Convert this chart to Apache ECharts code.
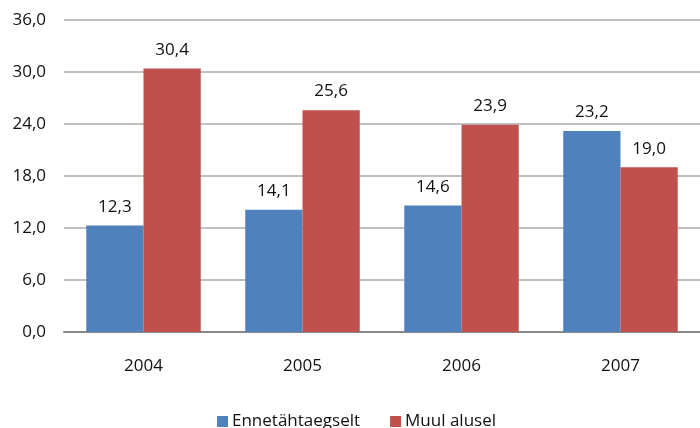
<!DOCTYPE html>
<html><head><meta charset="utf-8">
<script src="https://cdn.jsdelivr.net/npm/echarts@6/dist/echarts.min.js"></script>
<style>html,body{margin:0;padding:0;background:#fff}#c{width:700px;height:428px}</style>
</head><body><div id="c"></div>
<script>
var categories = ['2004', '2005', '2006', '2007'];
var seriesNames = ['Ennetähtaegselt', 'Muul alusel'];
var ennetahtaegselt = [12.3, 14.1, 14.6, 23.2];
var muulAlusel = [30.4, 25.6, 23.9, 19.0];
var yTicks = [0, 6, 12, 18, 24, 30, 36];

var fmt = function (v) { return v.toFixed(1).replace('.', ','); };
var font = 'Open Sans, Noto Sans, sans-serif';
var fs = 17;
var chart = echarts.init(document.getElementById('c'));
var lbl = { show: true, position: 'top', distance: 10, fontSize: fs, color: '#111', fontFamily: font,
  formatter: function (p) { return fmt(p.value); } };
chart.setOption({
  animation: false,
  grid: { left: 64, right: -5, top: 20, bottom: 96 },
  legend: {
    top: 408, left: 212, itemWidth: 11, itemHeight: 11, itemGap: 30, icon: 'rect',
    textStyle: { fontSize: fs, color: '#111', fontFamily: font, padding: [0, 0, 0, -1] },
    data: seriesNames
  },
  xAxis: {
    type: 'category', data: categories,
    axisLine: { lineStyle: { color: '#888', width: 2 } },
    axisTick: { show: false },
    axisLabel: { fontSize: fs, color: '#111', fontFamily: font, margin: 26 }
  },
  yAxis: {
    type: 'value', min: yTicks[0], max: yTicks[yTicks.length - 1], interval: 6,
    axisLine: { show: false }, axisTick: { show: false },
    splitLine: { lineStyle: { color: '#c0c0c0', width: 2 } },
    axisLabel: { fontSize: fs, color: '#111', fontFamily: font, margin: 18, formatter: fmt }
  },
  series: [
    { name: seriesNames[0], type: 'bar', data: ennetahtaegselt, barGap: '0%', barCategoryGap: '28%',
      itemStyle: { color: '#4F81BD' }, label: lbl },
    { name: seriesNames[1], type: 'bar', data: muulAlusel,
      itemStyle: { color: '#C0504D' }, label: lbl }
  ]
});
</script></body></html>
